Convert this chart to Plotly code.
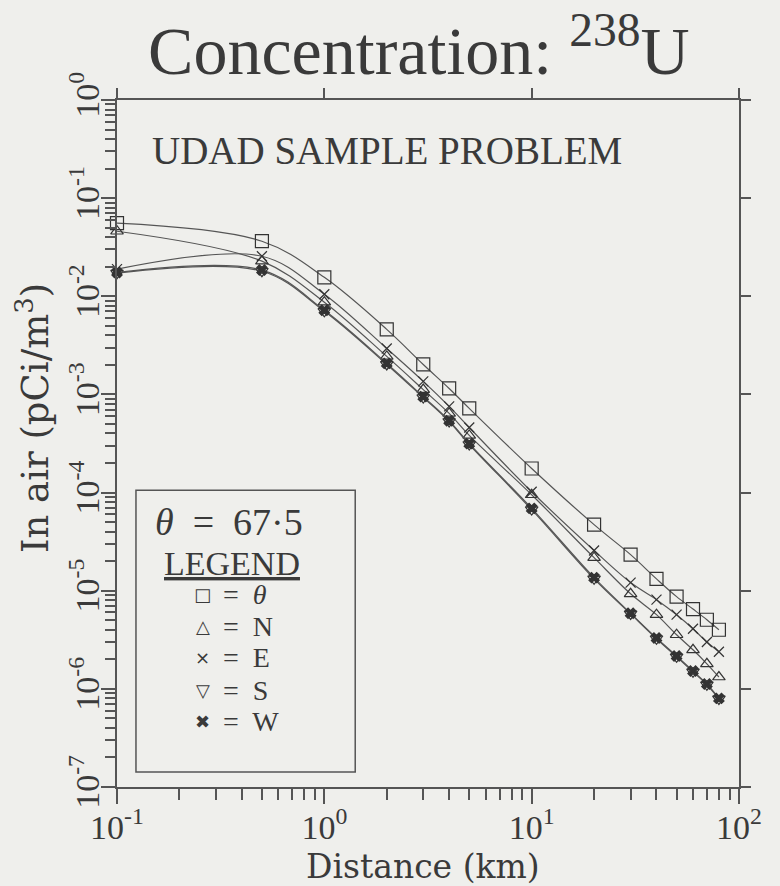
import plotly.graph_objects as go

# ---------------- data ----------------
distance_km = [0.1, 0.5, 1, 2, 3, 4, 5, 10, 20, 30, 40, 50, 60, 70, 80]

conc_theta = [0.0556, 0.0364, 0.0156, 0.0046, 0.00202, 0.00115, 0.00072, 1.76e-4,
              4.71e-5, 2.33e-5, 1.32e-5, 8.7e-6, 6.5e-6, 5.06e-6, 4.0e-6]
conc_N = [0.046, 0.0228, 0.0087, 0.00244, 0.00112, 6.4e-4, 3.82e-4, 9.5e-5,
          2.17e-5, 9.3e-6, 5.7e-6, 3.56e-6, 2.5e-6, 1.8e-6, 1.32e-6]
conc_E = [0.0189, 0.0256, 0.0105, 0.00294, 0.00136, 7.55e-4, 4.6e-4, 1.02e-4,
          2.57e-5, 1.21e-5, 8.1e-6, 5.7e-6, 4.1e-6, 3.0e-6, 2.39e-6]
conc_S = [0.0172, 0.018, 0.00703, 0.00202, 9.3e-4, 5.3e-4, 3.09e-4, 6.7e-5,
          1.32e-5, 5.8e-6, 3.24e-6, 2.12e-6, 1.49e-6, 1.1e-6, 7.9e-7]
conc_W = [0.0175, 0.0185, 0.0072, 0.00207, 9.5e-4, 5.4e-4, 3.15e-4, 6.9e-5,
          1.36e-5, 5.9e-6, 3.3e-6, 2.16e-6, 1.52e-6, 1.12e-6, 8.0e-7]

series_labels = ["θ", "N", "E", "S", "W"]
legend_symbols = ["□", "△", "×", "▽", "✖"]
x_tick_values = [0.1, 1, 10, 100]
x_tick_text = ["10<sup>-1</sup>", "10<sup>0</sup>", "10<sup>1</sup>", "10<sup>2</sup>"]
y_tick_values = [1e-7, 1e-6, 1e-5, 1e-4, 1e-3, 1e-2, 1e-1, 1]
y_tick_text = ["10<sup>-7</sup>", "10<sup>-6</sup>", "10<sup>-5</sup>", "10<sup>-4</sup>",
               "10<sup>-3</sup>", "10<sup>-2</sup>", "10<sup>-1</sup>", "10<sup>0</sup>"]

# ---------------- styling ----------------
FONT = "Liberation Serif, Times New Roman, serif"
WIDE = "DejaVu Serif, serif"
INK = "#3a3a3a"
LINE = "#555555"
BG = "#efefec"

series = [conc_theta, conc_N, conc_E, conc_S, conc_W]
symbols = ["square-open", "triangle-up-open", "x-thin-open", "triangle-down-open", "x"]
sizes = [13, 11, 10, 11, 9]

fig = go.Figure()
for vals, name, sym, sz in zip(series, series_labels, symbols, sizes):
    fig.add_trace(go.Scatter(
        x=distance_km, y=vals, name=name, mode="lines+markers",
        line=dict(color=LINE, width=1.2, shape="spline", smoothing=1.0),
        marker=dict(symbol=sym, size=sz, color="#333333",
                    line=dict(color="#333333", width=1.2)),
        cliponaxis=False, showlegend=False,
    ))

axis_common = dict(type="log", showgrid=False, zeroline=False,
                   showline=True, linecolor=LINE, linewidth=1.5,
                   tickcolor=LINE, tickwidth=1.5)

fig.update_layout(
    width=780, height=886,
    paper_bgcolor=BG, plot_bgcolor=BG,
    margin=dict(l=117, r=41, t=100, b=99),
    font=dict(family=FONT, color=INK),
    title=dict(text="Concentration: <sup>238</sup>U", x=0.537, xanchor="center",
               y=0.943, yanchor="middle", font=dict(size=68, family=FONT, color=INK)),
    xaxis=dict(**axis_common, range=[-1, 2], tickmode="array",
               tickvals=x_tick_values, ticktext=x_tick_text,
               ticks="outside", ticklen=15, ticklabelstandoff=-6,
               tickfont=dict(size=34, family=FONT, color=INK),
               minor=dict(ticks="outside", ticklen=11, tickcolor=LINE, tickwidth=1.5,
                          dtick="D1", showgrid=False)),
    yaxis=dict(**axis_common, range=[-7, 0], tickmode="array",
               tickvals=y_tick_values, ticktext=y_tick_text,
               ticks="outside", ticklen=14, tickangle=-90, ticklabelstandoff=-11,
               tickfont=dict(size=34, family=FONT, color=INK),
               minor=dict(ticks="outside", ticklen=10, tickcolor=LINE, tickwidth=1.5,
                          dtick="D1", showgrid=False)),
    xaxis2=dict(**axis_common, range=[-1, 2], overlaying="x", side="top", anchor="y",
                tickmode="array", tickvals=x_tick_values, ticks="outside",
                ticklen=10, showticklabels=False),
    yaxis2=dict(**axis_common, range=[-7, 0], overlaying="y", side="right", anchor="x",
                tickmode="array", tickvals=y_tick_values, ticks="outside",
                ticklen=10, showticklabels=False),
)

# helper so the mirror axes are drawn
fig.add_trace(go.Scatter(x=[None], y=[None], xaxis="x2", yaxis="y2",
                         showlegend=False, hoverinfo="skip"))

# axis titles
fig.add_annotation(text="Distance (km)", xref="paper", yref="paper",
                   x=0.492, y=-0.1155, xanchor="center", yanchor="middle",
                   showarrow=False, font=dict(size=33, family=WIDE, color=INK))
fig.add_annotation(text="In air (pCi/m<sup>3</sup>)", xref="paper", yref="paper",
                   x=-0.135, y=0.537, xanchor="center", yanchor="middle", textangle=-90,
                   showarrow=False, font=dict(size=37, family=WIDE, color=INK))

# inner caption
fig.add_annotation(text="UDAD SAMPLE PROBLEM", xref="paper", yref="paper",
                   x=0.053, y=0.927, xanchor="left", yanchor="middle",
                   showarrow=False, font=dict(size=39, family=FONT, color=INK))

# legend box
fig.add_shape(type="rect", xref="paper", yref="paper",
              x0=0.0305, x1=0.383, y0=0.0218, y1=0.432,
              line=dict(color=LINE, width=1.5), fillcolor="rgba(0,0,0,0)")
fig.add_annotation(text="<i>θ</i>  =  67·5", xref="paper", yref="paper",
                   x=0.18, y=0.386, xanchor="center", yanchor="middle",
                   showarrow=False, font=dict(size=38, family=FONT, color=INK))
fig.add_annotation(text="<u>LEGEND</u>", xref="paper", yref="paper",
                   x=0.185, y=0.325, xanchor="center", yanchor="middle",
                   showarrow=False, font=dict(size=34, family=FONT, color=INK))
row_y = [0.280, 0.234, 0.188, 0.141, 0.095]
for sym, lab, yy in zip(legend_symbols, series_labels, row_y):
    fig.add_annotation(text=sym, xref="paper", yref="paper", x=0.138, y=yy,
                       xanchor="center", yanchor="middle", showarrow=False,
                       font=dict(size=18, family="DejaVu Sans", color=INK))
    txt = "=  <i>θ</i>" if lab == "θ" else "=  " + lab
    fig.add_annotation(text=txt, xref="paper", yref="paper", x=0.168, y=yy,
                       xanchor="left", yanchor="middle", showarrow=False,
                       font=dict(size=28, family=FONT, color=INK))

fig.write_html("out.html")
